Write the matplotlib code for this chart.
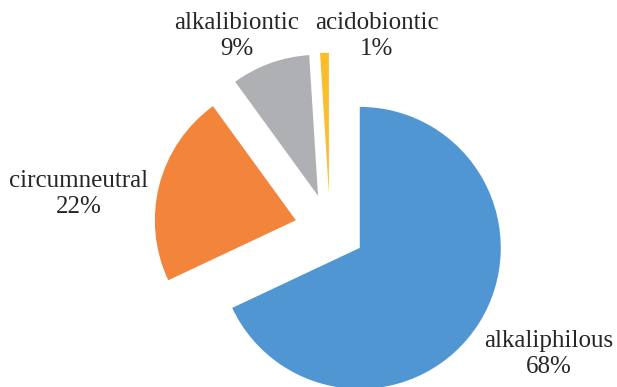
import numpy as np
import matplotlib.pyplot as plt

categories = ["alkaliphilous", "circumneutral", "alkalibiontic", "acidobiontic"]
shares = [68, 22, 9, 1]
colors = ["#5096d2", "#f2843c", "#afb0b4", "#fcbd2a"]

plt.rcParams['font.family'] = ['Liberation Serif', 'DejaVu Serif']

fig = plt.figure(figsize=(6.17, 3.87), dpi=100)
ax = fig.add_axes([0, 0, 1, 1])
ax.pie(shares, colors=colors, startangle=90, counterclock=False,
       explode=[0.25] * len(shares), radius=1.0,
       wedgeprops={"linewidth": 0})

# 1 data unit = 141 px, pie centre at (330, 229) px from top-left
r_px = 141.0
cx, cy = 330.0, 387 - 229.0
ax.set_xlim(-cx / r_px, (617 - cx) / r_px)
ax.set_ylim(-cy / r_px, (387 - cy) / r_px)
ax.set_aspect('auto')
ax.axis('off')

# label block centres in pixels from top-left
label_pos = {
    "alkaliphilous": (549, 354),
    "circumneutral": (79, 194),
    "alkalibiontic": (237, 36),
    "acidobiontic": (377, 36),
}
for cat, val in zip(categories, shares):
    px, py = label_pos[cat]
    fig.text(px / 617, 1 - py / 387, f"{cat}\n{val}%", ha='center',
             va='center', fontsize=18, color='#262626', linespacing=1.2)

fig.savefig("out.png", dpi=100)
